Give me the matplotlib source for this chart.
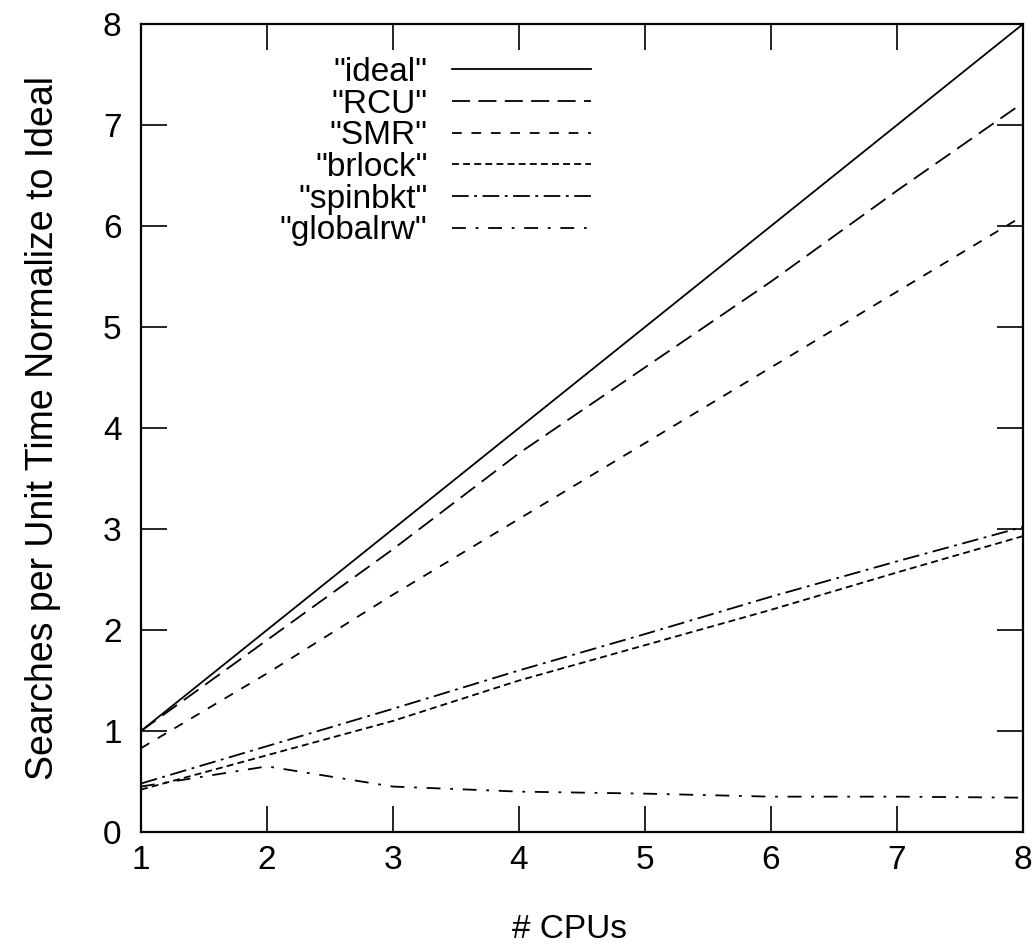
import matplotlib
matplotlib.use("Agg")
import matplotlib.pyplot as plt

plt.rcParams['font.family'] = ['Liberation Sans', 'DejaVu Sans']
plt.rcParams['lines.scale_dashes'] = False

cpus = [1, 2, 3, 4, 5, 6, 7, 8]
ideal = [1, 2, 3, 4, 5, 6, 7, 8]
rcu = [1.0, 1.9, 2.8, 3.75, 4.6, 5.45, 6.35, 7.22]
smr = [0.83, 1.57, 2.35, 3.1, 3.85, 4.6, 5.35, 6.1]
brlock = [0.42, 0.76, 1.1, 1.5, 1.85, 2.2, 2.57, 2.93]
spinbkt = [0.48, 0.85, 1.22, 1.6, 1.96, 2.33, 2.68, 3.02]
globalrw = [0.45, 0.65, 0.45, 0.4, 0.38, 0.35, 0.35, 0.34]

labels = ['"ideal"', '"RCU"', '"SMR"', '"brlock"', '"spinbkt"', '"globalrw"']
series = [ideal, rcu, smr, brlock, spinbkt, globalrw]
dashes = [None, (13, 6), (7, 7), (5, 3), (12, 4, 2, 4), (10, 7, 2, 7)]

fig = plt.figure(figsize=(10.35, 9.5), dpi=100)
ax = fig.add_axes([0.1362, 0.1242, 0.8522, 0.8505])

for ys, lab, d in zip(series, labels, dashes):
    line, = ax.plot(cpus, ys, color='black', lw=1.3, label=lab)
    if d is not None:
        line.set_dashes(d)

ax.set_xlim(1, 8)
ax.set_ylim(0, 8)
ax.set_xticks(cpus)
ax.set_yticks(range(0, 9))
ax.tick_params(direction='in', length=19, width=1.2, top=True, right=True,
               labelsize=24)
ax.tick_params(axis='y', pad=14)
ax.tick_params(axis='x', pad=9)
for s in ax.spines.values():
    s.set_linewidth(1.6)

ax.set_xlabel('# CPUs', fontsize=24)
ax.xaxis.set_label_coords(0.486, -0.101, transform=ax.transAxes)
ax.xaxis.label.set_verticalalignment('top')
ax.set_ylabel('Searches per Unit Time Normalize to Ideal', fontsize=27, labelpad=30)

ax.legend(loc='upper right', bbox_to_anchor=(0.51, 0.959), frameon=False,
          markerfirst=False, fontsize=24, handlelength=4.15, handletextpad=0.75,
          labelspacing=0.02, borderpad=0, borderaxespad=0)

fig.savefig('out.png', dpi=100)
